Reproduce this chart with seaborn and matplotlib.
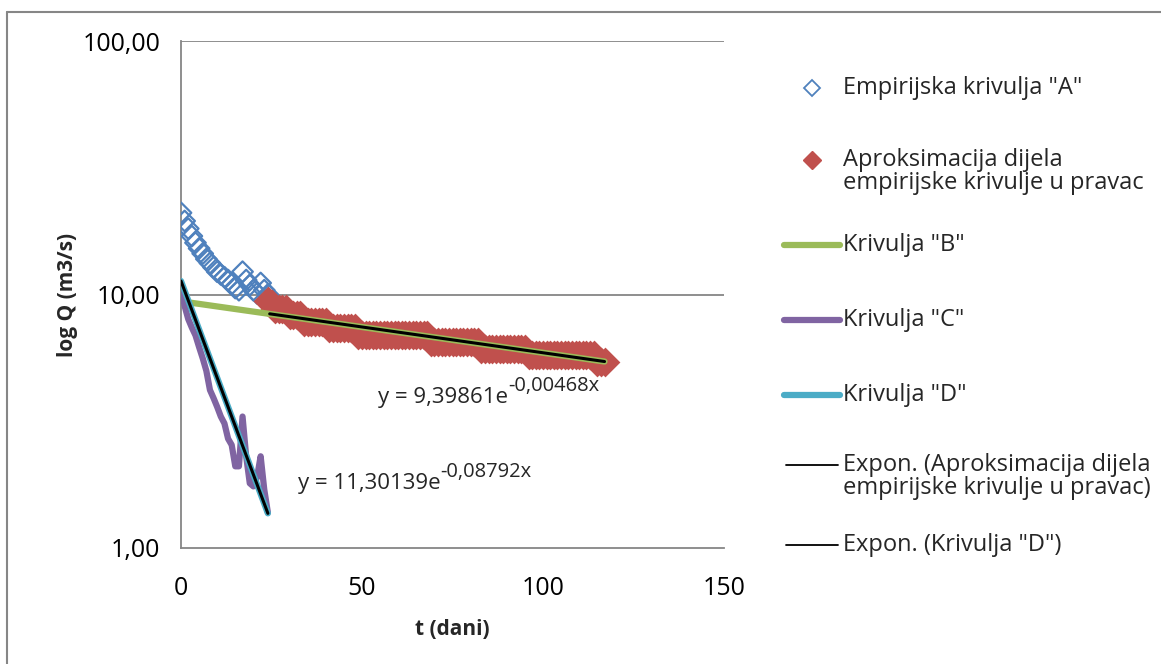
import matplotlib
matplotlib.use("Agg")
import matplotlib.pyplot as plt
import matplotlib.ticker as mticker
from matplotlib.lines import Line2D
import pandas as pd
import seaborn as sns

# Empirijska krivulja "A" (daily, t = 0..24)
t_a = list(range(0, 25))
q_a = [21.0, 19.5, 18.2, 17.0, 16.0, 15.2, 14.5, 13.8, 13.3, 12.8, 12.3, 12.0,
       11.7, 11.4, 11.0, 10.6, 10.4, 12.3, 11.4, 10.9, 10.4, 10.1, 11.1, 10.4, 10.0]

# Aproksimacija dijela empirijske krivulje u pravac (t = 24..117), stepped values
plateaus = [(24, 24, 9.4), (25, 25, 9.15), (26, 29, 8.8), (30, 33, 8.3),
            (34, 40, 7.8), (41, 48, 7.35), (49, 68, 6.95), (69, 82, 6.5),
            (83, 95, 6.1), (96, 114, 5.75), (115, 117, 5.42)]
t_r = [t for a, b, _ in plateaus for t in range(a, b + 1)]
q_r = [q for a, b, q in plateaus for _ in range(a, b + 1)]

# Krivulja "B" (straight on log scale)
t_b = [0, 117]
q_b = [9.40, 5.44]

# Krivulja "C" (daily, t = 0..24)
t_c = list(range(0, 25))
q_c = [10.8, 9.0, 8.0, 7.4, 6.9, 6.2, 5.6, 5.0, 4.2, 3.9, 3.6, 3.3, 3.1,
       2.7, 2.55, 2.1, 2.1, 3.3, 2.3, 1.8, 1.75, 1.9, 2.3, 1.7, 1.38]

# Krivulja "D"
t_d = [0, 24]
q_d = [11.30, 1.37]

# Exponential trendlines
t_fit_r = [24.5, 117]
q_fit_r = [8.39, 5.44]
t_fit_d = [0, 24]
q_fit_d = [11.30, 1.37]

eq_r = ("y = 9,39861e", "-0,00468x")
eq_d = ("y = 11,30139e", "-0,08792x")

legend_labels = [
    ['Empirijska krivulja "A"'],
    ["Aproksimacija dijela", "empirijske krivulje u pravac"],
    ['Krivulja "B"'],
    ['Krivulja "C"'],
    ['Krivulja "D"'],
    ["Expon. (Aproksimacija dijela", "empirijske krivulje u pravac)"],
    ['Expon. (Krivulja "D")'],
]

BLUE = "#4F81BD"
RED = "#C0504D"
GREEN = "#9BBB59"
PURPLE = "#8064A2"
CYAN = "#4BACC6"
GRAY = "#868686"
W, H = 1161, 664

sns.set_style("white")
plt.rcParams["font.family"] = ["Open Sans", "DejaVu Sans"]

fig = plt.figure(figsize=(W / 100, H / 100), dpi=100)
ax = fig.add_axes([181 / W, 1 - 548 / H, (724 - 181) / W, (548 - 41) / H])

df_a = pd.DataFrame({"t": t_a, "q": q_a})
df_r = pd.DataFrame({"t": t_r, "q": q_r})
df_c = pd.DataFrame({"t": t_c, "q": q_c})

sns.scatterplot(data=df_a, x="t", y="q", ax=ax, marker="D", s=110,
                facecolor="none", edgecolor=BLUE, linewidth=1.6, zorder=3)
sns.scatterplot(data=df_r, x="t", y="q", ax=ax, marker="D", s=230,
                color=RED, edgecolor=RED, linewidth=0, zorder=4)
ax.plot(t_b, q_b, color=GREEN, lw=4.5, solid_capstyle="round", zorder=5)
sns.lineplot(data=df_c, x="t", y="q", ax=ax, color=PURPLE, lw=4.5, zorder=5)
ax.plot(t_d, q_d, color=CYAN, lw=4.5, solid_capstyle="round", zorder=6)
ax.plot(t_fit_r, q_fit_r, color="black", lw=2.2, zorder=7)
ax.plot(t_fit_d, q_fit_d, color="black", lw=2.2, zorder=7)

ax.set_yscale("log")
ax.set_xlim(0, 150)
ax.set_ylim(1, 100)
ax.set_xticks([0, 50, 100, 150])
ax.yaxis.set_major_locator(mticker.FixedLocator([1, 10, 100]))
ax.yaxis.set_minor_locator(mticker.NullLocator())
ax.yaxis.set_major_formatter(mticker.FuncFormatter(lambda v, p: f"{v:.2f}".replace(".", ",")))

for y in [10, 100]:
    ax.axhline(y, color=GRAY, lw=1.3, zorder=1)
for side in ["top", "right"]:
    ax.spines[side].set_visible(False)
for side in ["left", "bottom"]:
    ax.spines[side].set_color(GRAY)
    ax.spines[side].set_linewidth(1.3)
ax.tick_params(axis="both", direction="out", length=7, width=1.3, color=GRAY,
               labelsize=18, labelcolor="black")
ax.tick_params(axis="x", pad=13)
ax.tick_params(axis="y", pad=8)

ax.set_xlabel("t (dani)", fontsize=15, fontweight="bold", labelpad=13)
ax.set_ylabel("log Q (m3/s)", fontsize=15, fontweight="bold", labelpad=3)

# trendline equations with a small superscript exponent
for (base, sup), (px, py) in [(eq_r, (378, 397)), (eq_d, (298, 483))]:
    t1 = fig.text(px / W, 1 - py / H, base, fontsize=16, ha="left", va="center")
    ax.annotate(sup, xy=(1, 0.55), xycoords=t1, fontsize=14.5, ha="left", va="bottom")

# legend, laid out like the Excel one (handle level with the first text line)
legend_y = [88, 160, 245, 320, 395, 465, 545]
line_pitch = 23
for i, (lines, y) in enumerate(zip(legend_labels, legend_y)):
    fy = 1 - y / H
    if i == 0:
        fig.add_artist(Line2D([812 / W], [fy], ls="none", marker="D", ms=8,
                              mfc="none", mec=BLUE, mew=1.3))
    elif i == 1:
        fig.add_artist(Line2D([812 / W], [fy], ls="none", marker="D", ms=9,
                              mfc=RED, mec=RED))
    elif i in (2, 3, 4):
        color = [GREEN, PURPLE, CYAN][i - 2]
        fig.add_artist(Line2D([784 / W, 840 / W], [fy, fy], color=color, lw=4.5,
                              solid_capstyle="round"))
    else:
        fig.add_artist(Line2D([786 / W, 838 / W], [fy, fy], color="black", lw=1.3))
    for k, line in enumerate(lines):
        fig.text(843 / W, 1 - (y + k * line_pitch) / H, line, fontsize=17,
                 ha="left", va="center")

# outer chart frame (cropped at right and bottom)
fig.add_artist(Line2D([7 / W, 1], [1 - 12 / H] * 2, color=GRAY, lw=1.5))
fig.add_artist(Line2D([7 / W] * 2, [0, 1 - 12 / H], color=GRAY, lw=1.5))

fig.savefig("out.png", dpi=100)
